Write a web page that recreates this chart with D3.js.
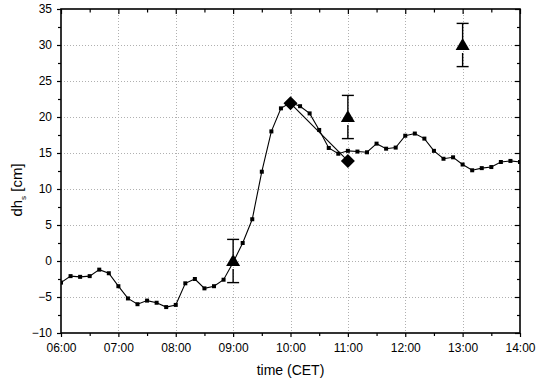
<!DOCTYPE html>
<html><head><meta charset="utf-8">
<script src="https://cdn.jsdelivr.net/npm/d3@7"></script>
<style>
body{margin:0;background:#fff;}
svg{display:block;font-family:"Liberation Sans",Arial,sans-serif;}
</style></head>
<body><svg id="c" width="536" height="388"></svg>
<script>
// time in hours since midnight, 10-minute series
const seriesTimes = d3.range(49).map(i => 6 + i/6);
const seriesValues = [-3.0,-2.1,-2.2,-2.1,-1.2,-1.7,-3.5,-5.2,-6.0,-5.5,-5.8,-6.4,
  -6.1,-3.1,-2.5,-3.8,-3.5,-2.6,-0.2,2.5,5.8,12.4,18.0,21.2,
  22.0,21.5,20.5,18.2,15.7,14.9,15.3,15.2,15.1,16.3,15.6,15.75,
  17.4,17.7,17.0,15.3,14.2,14.4,13.4,12.6,12.9,13.05,13.75,13.9,13.75];
const diamondTimes = [10, 11];
const diamondValues = [21.9, 13.9];
const triTimes = [9, 11, 13];
const triValues = [0, 20, 30];
const triErrors = [3, 3, 3];
const xTickValues = [6,7,8,9,10,11,12,13,14];
const xTickLabels = ["06:00","07:00","08:00","09:00","10:00","11:00","12:00","13:00","14:00"];
const yTickValues = [-10,-5,0,5,10,15,20,25,30,35];

const svg = d3.select("#c");
const L=61, R=520, T=9, B=333;
const x = d3.scaleLinear().domain([6,14]).range([L,R]);
const y = d3.scaleLinear().domain([-10,35]).range([B,T]);

// grid
const grid = svg.append("g").attr("stroke","#b0b0b0").attr("stroke-width",1).attr("stroke-dasharray","1,2");
xTickValues.slice(1,-1).forEach(v=>grid.append("line").attr("x1",Math.round(x(v))+0.5).attr("x2",Math.round(x(v))+0.5).attr("y1",T).attr("y2",B));
yTickValues.slice(1,-1).forEach(v=>grid.append("line").attr("y1",Math.round(y(v))+0.5).attr("y2",Math.round(y(v))+0.5).attr("x1",L).attr("x2",R));

// axes
const xMinor = d3.range(6.5,14,1);
const yMinor = d3.range(-7.5,35,5);
const fmt = v => xTickLabels[xTickValues.indexOf(v)];
function style(g){g.select(".domain").remove();g.selectAll("line").attr("stroke","#000").attr("stroke-width",1.2);}
svg.append("g").attr("transform",`translate(0,${B})`)
  .call(d3.axisBottom(x).tickValues(xTickValues).tickFormat(fmt).tickSize(4).tickPadding(6))
  .call(style).call(g=>g.selectAll("text").attr("font-size",12).attr("fill","#000").attr("font-family","Liberation Sans, Arial"));
svg.append("g").attr("transform",`translate(0,${B})`)
  .call(d3.axisBottom(x).tickValues(xMinor).tickFormat("").tickSize(3)).call(style);
svg.append("g").attr("transform",`translate(0,${T})`)
  .call(d3.axisBottom(x).tickValues(xTickValues).tickFormat("").tickSize(5)).call(style);
svg.append("g").attr("transform",`translate(0,${T})`)
  .call(d3.axisBottom(x).tickValues(xMinor).tickFormat("").tickSize(3.5)).call(style);
svg.append("g").attr("transform",`translate(${L},0)`)
  .call(d3.axisLeft(y).tickValues(yTickValues).tickSize(4).tickPadding(5))
  .call(style).call(g=>g.selectAll("text").attr("font-size",12).attr("fill","#000").attr("font-family","Liberation Sans, Arial"));
svg.append("g").attr("transform",`translate(${L},0)`)
  .call(d3.axisLeft(y).tickValues(yMinor).tickFormat("").tickSize(3)).call(style);
svg.append("g").attr("transform",`translate(${R},0)`)
  .call(d3.axisLeft(y).tickValues(yTickValues).tickFormat("").tickSize(5)).call(style);
svg.append("g").attr("transform",`translate(${R},0)`)
  .call(d3.axisLeft(y).tickValues(yMinor).tickFormat("").tickSize(3)).call(style);
svg.append("rect").attr("x",L).attr("y",T).attr("width",R-L).attr("height",B-T)
  .attr("fill","none").attr("stroke","#000").attr("stroke-width",1.6);

// series line
const line = d3.line().x(d=>x(d[0])).y(d=>y(d[1]));
const sdata = seriesTimes.map((t,i)=>[t,seriesValues[i]]);
const clip = svg.append("clipPath").attr("id","clp").append("rect").attr("x",L).attr("y",T).attr("width",R-L).attr("height",B-T);
const plot = svg.append("g").attr("clip-path","url(#clp)");
plot.append("path").datum(sdata).attr("d",line).attr("fill","none").attr("stroke","#000").attr("stroke-width",1.1);
plot.selectAll("rect.pt").data(sdata).join("rect").attr("class","pt")
  .attr("x",d=>x(d[0])-2).attr("y",d=>y(d[1])-2).attr("width",4).attr("height",4).attr("fill","#000");

// diamonds
const ddata = diamondTimes.map((t,i)=>[t,diamondValues[i]]);
svg.append("path").datum(ddata).attr("d",line).attr("fill","none").attr("stroke","#000").attr("stroke-width",1.1);
svg.selectAll("path.dia").data(ddata).join("path").attr("class","dia")
  .attr("transform",d=>`translate(${x(d[0])},${y(d[1])})`)
  .attr("d","M0,-7L7,0L0,7L-7,0Z").attr("fill","#000");

// triangles with error bars
const tdata = triTimes.map((t,i)=>[t,triValues[i],triErrors[i]]);
const eb = svg.append("g").attr("stroke","#000").attr("stroke-width",1.4);
tdata.forEach(d=>{
  const cx = x(d[0]), cy=y(d[1]), yt=y(d[1]+d[2]), yb=y(d[1]-d[2]);
  eb.append("line").attr("x1",cx).attr("x2",cx).attr("y1",yt).attr("y2",cy-6);
  eb.append("line").attr("x1",cx).attr("x2",cx).attr("y1",cy+8).attr("y2",yb);
  eb.append("line").attr("x1",cx-6).attr("x2",cx+6).attr("y1",yt).attr("y2",yt);
  eb.append("line").attr("x1",cx-6).attr("x2",cx+6).attr("y1",yb).attr("y2",yb);
});
svg.selectAll("path.tri").data(tdata).join("path").attr("class","tri")
  .attr("transform",d=>`translate(${x(d[0])},${y(d[1])})`)
  .attr("d","M0,-7L7,5L-7,5Z").attr("fill","#000");

// titles
svg.append("text").attr("x",(L+R)/2).attr("y",375).attr("text-anchor","middle")
  .attr("font-size",14).text("time (CET)");
const yl = svg.append("text").attr("transform","translate(22,190) rotate(-90)").attr("text-anchor","middle").attr("font-size",15);
yl.append("tspan").text("dh");
yl.append("tspan").attr("font-size",8).attr("dy",4).text("s");
yl.append("tspan").attr("dy",-4).text(" [cm]");
</script></body></html>
